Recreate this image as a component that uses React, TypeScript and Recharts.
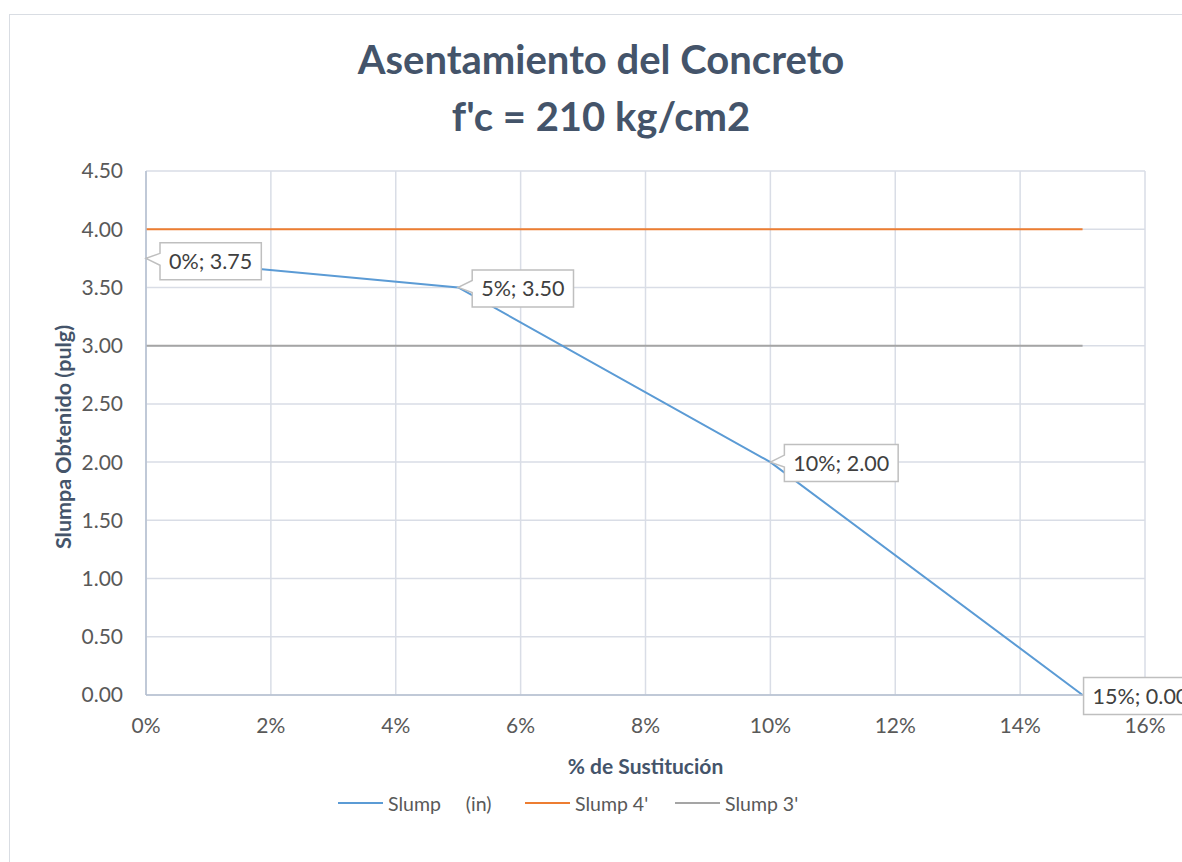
import { CartesianGrid, LabelList, Line, LineChart, XAxis, YAxis, Label } from "recharts";

const sustitucion = [0, 5, 10, 15];
const slumpIn = [3.75, 3.5, 2.0, 0.0];
const slump4 = [4, 4, 4, 4];
const slump3 = [3, 3, 3, 3];
const xTicks = [0, 2, 4, 6, 8, 10, 12, 14, 16];
const yTicks = [0, 0.5, 1, 1.5, 2, 2.5, 3, 3.5, 4, 4.5];

const data = sustitucion.map((x, i) => ({
  x,
  slump: slumpIn[i],
  s4: slump4[i],
  s3: slump3[i],
}));

const TEXT = "#44546a";
const FONT = "Lato, 'Open Sans', sans-serif";

const legendItems = [
  { name: "Slump     (in)", color: "#5b9bd5" },
  { name: "Slump 4'", color: "#ed7d31" },
  { name: "Slump 3'", color: "#a5a5a5" },
];

let ctx: CanvasRenderingContext2D | null = null;
function measure(text: string, size: number) {
  if (!ctx) ctx = document.createElement("canvas").getContext("2d");
  if (!ctx) return text.length * size * 0.55;
  ctx.font = `${size}px Lato`;
  return ctx.measureText(text).width;
}

function Callout(props: any) {
  const { x, y, index } = props;
  const text = `${sustitucion[index]}%; ${slumpIn[index].toFixed(2)}`;
  const fs = 21.5;
  const w = measure(text, fs) + 18;
  const h = 37;
  const last = index === sustitucion.length - 1;
  const left = x + (last ? 1 : 14);
  const cy = y + (index === 0 ? 3 : 1);
  const top = cy - h / 2;
  const path = last
    ? `M${left},${top} H${left + w} V${top + h} H${left} Z`
    : `M${left},${top} H${left + w} V${top + h} H${left} V${cy + 4} L${x},${y} L${left},${cy - 8} Z`;
  return (
    <g>
      <path d={path} fill="#fff" stroke="#bfbfbf" strokeWidth={1.5} />
      <text
        x={left + w / 2}
        y={cy}
        textAnchor="middle"
        dominantBaseline="central"
        fontSize={fs}
        fill="#404040"
        fontFamily={FONT}
      >
        {text}
      </text>
    </g>
  );
}

const legendLeft = [338, 525, 675];

export default function App() {
  return (
    <div style={{ position: "fixed", inset: 0, overflow: "hidden", background: "#fff", fontFamily: FONT }}>
      <div
        style={{
          position: "absolute",
          left: 9,
          top: 14,
          width: 1300,
          height: 1000,
          border: "1.5px solid #d9dde3",
        }}
      />
      <div style={{ position: "absolute", left: 0, top: 31, width: 1182, textAlign: "center", color: TEXT }}>
        <div style={{ fontSize: 40, fontWeight: 700, lineHeight: "57px", marginLeft: 20 }}>
          Asentamiento del Concreto
          <br />
          f'c = 210 kg/cm2
        </div>
      </div>
      <div style={{ position: "absolute", left: 0, top: 0 }}>
        <LineChart
          width={1182}
          height={862}
          data={data}
          margin={{ top: 171, right: 37, left: 56, bottom: 89 }}
        >
          <CartesianGrid stroke="#d9dde6" strokeWidth={1.5} />
          <XAxis
            dataKey="x"
            type="number"
            domain={[0, 16]}
            ticks={xTicks}
            tickFormatter={(v) => `${v}%`}
            tick={{ fontSize: 21, fill: "#595959", fontFamily: FONT }}
            axisLine={{ stroke: "#b4bfd0", strokeWidth: 1.5 }}
            tickLine={false}
            tickMargin={17}
            height={78}
          >
            <Label
              content={({ viewBox }: any) => (
                <text
                  x={viewBox.x + viewBox.width / 2}
                  y={765}
                  textAnchor="middle"
                  dominantBaseline="central"
                  fontSize={21}
                  fontWeight={700}
                  fill={TEXT}
                  fontFamily={FONT}
                >
                  % de Sustitución
                </text>
              )}
            />
          </XAxis>
          <YAxis
            type="number"
            domain={[0, 4.5]}
            ticks={yTicks}
            tickFormatter={(v) => v.toFixed(2)}
            tick={{ fontSize: 21, fill: "#595959", fontFamily: FONT }}
            axisLine={{ stroke: "#b4bfd0", strokeWidth: 1.5 }}
            tickLine={false}
            tickMargin={17}
            width={90}
          >
            <Label
              content={() => (
                <text
                  x={63}
                  y={437}
                  transform="rotate(-90 63 437)"
                  textAnchor="middle"
                  dominantBaseline="central"
                  fontSize={21.5}
                  fontWeight={700}
                  fill={TEXT}
                  fontFamily={FONT}
                >
                  Slumpa Obtenido (pulg)
                </text>
              )}
            />
          </YAxis>
          <Line dataKey="s4" stroke="#ed7d31" strokeWidth={2} dot={false} isAnimationActive={false} />
          <Line dataKey="s3" stroke="#a5a5a5" strokeWidth={2} dot={false} isAnimationActive={false} />
          <Line dataKey="slump" stroke="#5b9bd5" strokeWidth={2} dot={false} isAnimationActive={false}>
            <LabelList dataKey="slump" content={Callout} />
          </Line>
        </LineChart>
      </div>
      {legendItems.map((it, i) => (
        <div
          key={it.name}
          style={{
            position: "absolute",
            left: legendLeft[i],
            top: 790,
            height: 26,
            display: "flex",
            alignItems: "center",
            whiteSpace: "pre",
            fontSize: 19.5,
            color: "#595959",
          }}
        >
          <span style={{ display: "inline-block", width: 45, height: 2, background: it.color, marginRight: 5 }} />
          {it.name}
        </div>
      ))}
    </div>
  );
}
